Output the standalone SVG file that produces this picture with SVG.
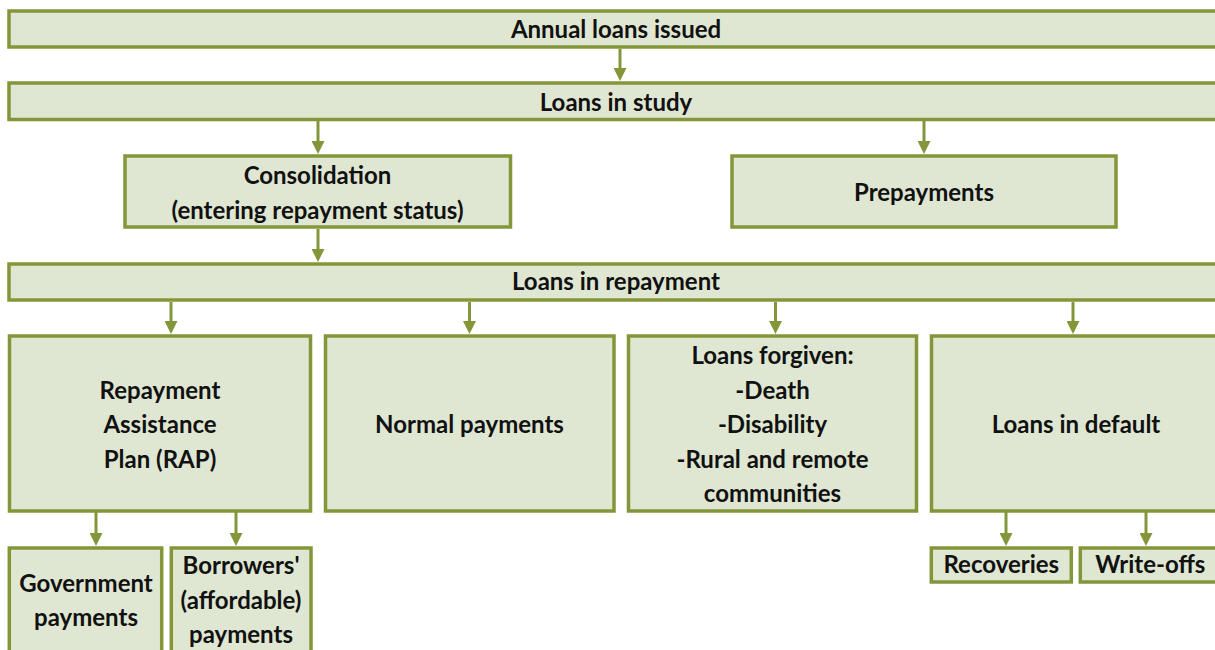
<svg xmlns="http://www.w3.org/2000/svg" width="1215" height="650" viewBox="0 0 1215 650">
<style>
.box{fill:#DFE7D2;stroke:#84963A;stroke-width:3.5}
.lbl{font-family:Lato,"Open Sans","Liberation Sans",sans-serif;font-weight:bold;font-size:24px;fill:#111;text-anchor:middle}
.con{stroke:#84963A;stroke-width:3;fill:none;marker-end:url(#ah)}
</style>
<defs>
<marker id="ah" viewBox="0 0 13 13" refX="5" refY="6.5" markerWidth="13" markerHeight="13" markerUnits="userSpaceOnUse" orient="auto">
<path d="M0,0 L13,6.5 L0,13 z" fill="#84963A"/>
</marker>
</defs>
<rect width="1215" height="650" fill="#fff"/>
<g id="connectors">
<path class="con" d="M620,49 V73"/>
<path class="con" d="M318,121 V146"/>
<path class="con" d="M924,121 V146"/>
<path class="con" d="M318,229 V254"/>
<path class="con" d="M171,302 V326"/>
<path class="con" d="M469.5,302 V326"/>
<path class="con" d="M775.5,302 V326"/>
<path class="con" d="M1073,302 V326"/>
<path class="con" d="M96,512 V538"/>
<path class="con" d="M236,512 V538"/>
<path class="con" d="M1006,512 V538"/>
<path class="con" d="M1146,512 V538"/>
</g>
<g id="annual">
<rect class="box" x="9" y="11" width="1214" height="36"/>
<text class="lbl" x="616" y="38">Annual loans issued</text>
</g>
<g id="study">
<rect class="box" x="9" y="83" width="1214" height="36.5"/>
<text class="lbl" x="616" y="111">Loans in study</text>
</g>
<g id="consolidation">
<rect class="box" x="125" y="156" width="385.5" height="71"/>
<text class="lbl" x="317.5" y="184">Consolidation</text>
<text class="lbl" x="317.5" y="218.5">(entering repayment status)</text>
</g>
<g id="prepayments">
<rect class="box" x="732" y="156" width="384" height="71"/>
<text class="lbl" x="924" y="200.5">Prepayments</text>
</g>
<g id="repayment">
<rect class="box" x="9" y="264" width="1214" height="36"/>
<text class="lbl" x="616" y="290">Loans in repayment</text>
</g>
<g id="rap">
<rect class="box" x="9.5" y="336" width="301" height="175"/>
<text class="lbl" x="160" y="399">Repayment</text>
<text class="lbl" x="160" y="433.3">Assistance</text>
<text class="lbl" x="160" y="467.7">Plan (RAP)</text>
</g>
<g id="normal">
<rect class="box" x="325.5" y="336" width="288.5" height="175"/>
<text class="lbl" x="469.5" y="433.3">Normal payments</text>
</g>
<g id="forgiven">
<rect class="box" x="628.5" y="336" width="288" height="175"/>
<text class="lbl" x="772.5" y="364">Loans forgiven:</text>
<text class="lbl" x="772.5" y="399">-Death</text>
<text class="lbl" x="772.5" y="433.3">-Disability</text>
<text class="lbl" x="772.5" y="467.7">-Rural and remote</text>
<text class="lbl" x="772.5" y="502.3">communities</text>
</g>
<g id="default">
<rect class="box" x="931.5" y="336" width="288" height="175"/>
<text class="lbl" x="1076" y="433.3">Loans in default</text>
</g>
<g id="government">
<rect class="box" x="9.3" y="548" width="152.4" height="120"/>
<text class="lbl" x="86" y="592">Government</text>
<text class="lbl" x="86" y="626">payments</text>
</g>
<g id="borrowers">
<rect class="box" x="171.3" y="548" width="139.7" height="120"/>
<text class="lbl" x="241" y="574">Borrowers'</text>
<text class="lbl" x="241" y="609">(affordable)</text>
<text class="lbl" x="241" y="643.3">payments</text>
</g>
<g id="recoveries">
<rect class="box" x="931.3" y="548" width="140" height="34"/>
<text class="lbl" x="1001.3" y="573.3">Recoveries</text>
</g>
<g id="writeoffs">
<rect class="box" x="1080.3" y="548" width="140" height="34"/>
<text class="lbl" x="1150.3" y="573.3">Write-offs</text>
</g>
</svg>
